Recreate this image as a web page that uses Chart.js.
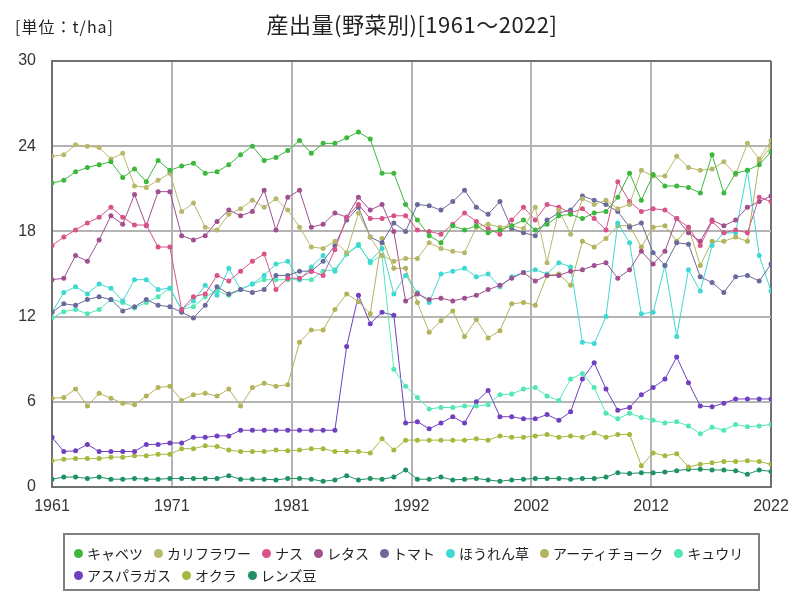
<!DOCTYPE html>
<html>
<head>
<meta charset="utf-8">
<script src="https://cdn.jsdelivr.net/npm/chart.js@4.4.1/dist/chart.umd.min.js"></script>
<style>
    html, body { margin: 0; padding: 0; background: #fff; }
    #wrap { position: relative; width: 800px; height: 600px; }
    #legend {
        position: absolute; left: 63px; top: 533px; width: 697px; height: 58px;
        box-sizing: border-box; border: 2px solid #808080;
        padding: 7px 0 0 9px;
        display: flex; flex-wrap: wrap; align-content: flex-start;
        font: 14px "Noto Sans CJK JP", sans-serif; color: #222;
    }
    .item { display: flex; align-items: center; height: 22px; margin-right: 11px; }
    .dot { width: 9px; height: 9px; border-radius: 50%; margin-right: 4px; }
</style>
</head>
<body>
<div id="wrap">
    <canvas id="chart" width="800" height="600"></canvas>
    <div id="legend"></div>
</div>
<script>
const titleText = '産出量(野菜別)[1961～2022]';
const unitText = '[単位：t/ha]';

const firstYear = 1961;
const lastYear = 2022;
const years = [];
for (let y = firstYear; y <= lastYear; y++) years.push(y);

// t/ha, 1961..2022
const cabbage = [
    21.4, 21.6, 22.2, 22.5, 22.7, 22.9, 21.8, 22.4, 21.5, 23.0,
    22.3, 22.6, 22.8, 22.1, 22.2, 22.7, 23.4, 24.0, 23.0, 23.2,
    23.7, 24.4, 23.5, 24.2, 24.2, 24.6, 25.0, 24.5, 22.1, 22.1,
    19.9, 18.8, 17.7, 17.2, 18.4, 18.1, 18.4, 17.9, 18.1, 18.4,
    18.8, 18.1, 18.5, 19.1, 19.2, 18.9, 19.3, 19.4, 20.4, 22.1,
    20.2, 22.0, 21.2, 21.2, 21.1, 20.7, 23.4, 20.7, 22.1, 22.3,
    22.7, 23.6
];
const cauliflower = [
    23.3, 23.4, 24.1, 24.0, 23.9, 23.1, 23.5, 21.2, 21.1, 21.6,
    22.1, 19.4, 20.0, 18.3, 18.1, 19.2, 19.6, 20.2, 19.7, 20.3,
    19.5, 18.3, 16.9, 16.8, 17.3, 16.5, 19.3, 17.6, 16.3, 15.9,
    16.1, 16.1, 17.2, 16.8, 16.6, 16.5, 18.3, 18.5, 18.3, 18.4,
    18.2, 19.7, 15.8, 19.5, 17.8, 20.3, 19.9, 20.2, 19.6, 19.9,
    22.3, 21.9, 21.9, 23.3, 22.5, 22.3, 22.4, 22.9, 22.0, 24.2,
    23.1, 24.4
];
const eggplant = [
    17.0, 17.6, 18.1, 18.6, 19.0, 19.7, 19.0, 18.45, 18.45, 16.9,
    16.9, 12.5, 13.4, 13.6, 14.9, 14.5, 15.2, 15.9, 16.4, 13.9,
    14.7, 14.7, 15.2, 14.9, 16.7, 19.0, 19.9, 18.9, 18.9, 19.1,
    19.1, 18.1, 18.0, 17.8, 18.5, 19.3, 18.7, 18.2, 17.8, 18.8,
    19.7, 18.8, 19.9, 19.7, 19.3, 19.6, 18.9, 18.1, 21.5, 20.1,
    19.4, 19.6, 19.5, 18.9, 18.3, 17.0, 18.7, 17.9, 18.1, 17.9,
    20.4, 20.1
];
const lettuce = [
    14.6, 14.7, 16.3, 15.9, 17.4, 19.1, 18.5, 20.6, 18.4, 20.8,
    20.8, 17.7, 17.4, 17.7, 18.7, 19.5, 19.1, 19.4, 20.9, 18.1,
    20.4, 20.9, 18.3, 18.5, 19.3, 19.0, 20.4, 19.5, 19.9, 18.0,
    13.1, 13.6, 13.2, 13.3, 13.1, 13.3, 13.5, 13.9, 14.2, 14.7,
    15.1, 14.5, 14.9, 14.9, 15.2, 15.3, 15.6, 15.8, 14.7, 15.3,
    16.6, 15.7, 16.6, 18.9, 17.9, 17.3, 18.8, 18.4, 18.8, 19.7,
    20.1, 20.5
];
const tomato = [
    12.3, 12.9, 12.8, 13.2, 13.4, 13.2, 12.4, 12.7, 13.2, 12.8,
    12.7, 12.3, 11.9, 12.8, 14.1, 13.6, 13.9, 13.7, 13.9, 14.9,
    14.9, 15.2, 15.2, 15.9, 17.0, 18.8, 19.7, 17.6, 17.2, 18.6,
    18.0, 19.9, 19.8, 19.5, 20.1, 20.9, 19.7, 19.2, 20.1, 18.2,
    17.9, 17.7, 18.8, 19.3, 19.5, 20.5, 20.2, 19.9, 19.4, 18.3,
    18.6, 16.5, 15.6, 17.2, 17.1, 14.8, 14.4, 13.7, 14.8, 14.9,
    14.5, 15.7
];
const spinach = [
    12.3, 13.7, 14.1, 13.6, 14.3, 14.0, 13.1, 14.6, 14.6, 13.9,
    14.0, 12.5, 13.1, 14.2, 13.5, 15.4, 13.9, 14.3, 14.9, 15.7,
    15.9, 14.6, 15.5, 16.3, 15.2, 16.4, 17.0, 15.9, 16.8, 13.6,
    14.9, 13.7, 13.0, 15.0, 15.2, 15.4, 14.8, 15.0, 14.1, 14.8,
    15.1, 15.3, 15.0, 15.8, 15.5, 10.2, 10.1, 12.0, 18.6, 17.2,
    12.2, 12.3, 15.6, 10.6, 15.3, 13.8, 17.0, 17.9, 17.9, 22.3,
    16.3, 13.8
];
const artichoke = [
    6.25, 6.3, 6.9, 5.7, 6.6, 6.25, 5.9, 5.8, 6.4, 7.0,
    7.1, 6.1, 6.5, 6.6, 6.4, 6.9, 5.7, 7.0, 7.3, 7.1,
    7.2, 10.2, 11.05, 11.05, 12.5, 13.6, 13.05, 12.2, 17.5, 15.4,
    15.4, 13.0, 10.9, 11.7, 12.4, 10.6, 11.8, 10.5, 11.0, 12.9,
    13.0, 12.8, 14.9, 15.0, 14.2, 17.3, 16.9, 17.5, 18.4, 18.4,
    16.9, 18.3, 18.4, 17.3, 18.3, 15.6, 17.3, 17.3, 17.6, 17.3,
    22.9, 24.0
];
const cucumber = [
    11.9, 12.35, 12.5, 12.2, 12.5, 13.2, 13.0, 12.6, 13.0, 13.4,
    14.0, 12.5, 12.7, 13.4, 13.8, 13.5, 13.9, 14.3, 14.6, 14.6,
    14.6, 14.6, 14.6, 15.2, 15.3, 16.4, 17.1, 15.8, 16.3, 8.3,
    7.1, 6.3, 5.5, 5.6, 5.6, 5.7, 5.7, 5.8, 6.5, 6.55,
    6.9, 7.0, 6.4, 6.1, 7.6, 8.0, 7.0, 5.2, 4.8, 5.2,
    4.9, 4.7, 4.5, 4.6, 4.3, 3.75, 4.2, 4.0, 4.4, 4.25,
    4.3, 4.4
];
const asparagus = [
    3.5, 2.5, 2.55, 3.0, 2.5, 2.5, 2.5, 2.5, 3.0, 3.0,
    3.1, 3.1, 3.5, 3.5, 3.6, 3.6, 4.0, 4.0, 4.0, 4.0,
    4.0, 4.0, 4.0, 4.0, 4.0, 9.9, 13.5, 11.5, 12.3, 12.1,
    4.5, 4.6, 4.1, 4.5, 4.95, 4.5, 6.0, 6.8, 4.95, 4.95,
    4.8, 4.8, 5.1, 4.7, 5.3, 7.6, 8.75, 6.9, 5.4, 5.6,
    6.5, 7.0, 7.6, 9.15, 7.35, 5.7, 5.65, 5.9, 6.2, 6.2,
    6.2, 6.2
];
const okra = [
    1.85, 1.95, 2.0, 2.0, 2.0, 2.1, 2.1, 2.2, 2.2, 2.3,
    2.3, 2.7, 2.7, 2.9, 2.85, 2.6, 2.5, 2.5, 2.5, 2.6,
    2.55, 2.6, 2.7, 2.7, 2.5, 2.5, 2.5, 2.4, 3.4, 2.6,
    3.3, 3.3, 3.3, 3.3, 3.3, 3.3, 3.4, 3.3, 3.6, 3.5,
    3.5, 3.6, 3.7, 3.5, 3.6, 3.5, 3.8, 3.5, 3.7, 3.7,
    1.5, 2.4, 2.2, 2.35, 1.4, 1.6, 1.7, 1.8, 1.8, 1.85,
    1.8, 1.6
];
const lentils = [
    0.55, 0.7, 0.7, 0.6, 0.7, 0.55, 0.55, 0.6, 0.55, 0.55,
    0.6, 0.6, 0.6, 0.6, 0.6, 0.8, 0.55, 0.55, 0.55, 0.5,
    0.6, 0.6, 0.55, 0.4, 0.5, 0.8, 0.5, 0.6, 0.55, 0.7,
    1.2, 0.55, 0.55, 0.7, 0.5, 0.55, 0.6, 0.5, 0.4, 0.5,
    0.55, 0.6, 0.6, 0.6, 0.55, 0.6, 0.6, 0.7, 1.0, 0.95,
    1.0, 1.0, 1.05, 1.15, 1.25, 1.25, 1.2, 1.2, 1.15, 0.9,
    1.2, 1.1
];

const seriesNames = ['キャベツ', 'カリフラワー', 'ナス', 'レタス', 'トマト', 'ほうれん草',
    'アーティチョーク', 'キュウリ', 'アスパラガス', 'オクラ', 'レンズ豆'];
const seriesValues = [cabbage, cauliflower, eggplant, lettuce, tomato, spinach,
    artichoke, cucumber, asparagus, okra, lentils];
const seriesColors = ['#3cb83c', '#b8b86c', '#d9538b', '#a0508f', '#6a6a9c', '#40d8d2',
    '#b3b35a', '#52e8b6', '#7040c0', '#a6b840', '#1f9163'];

const xTicks = [0, 1, 2, 3, 4, 5, 6].map(k => firstYear + k * (lastYear - firstYear) / 6);
const yTicks = [0, 6, 12, 18, 24, 30];

const datasets = seriesNames.map((name, i) => ({
    label: name,
    data: seriesValues[i].map((v, j) => ({ x: years[j], y: v })),
    borderColor: seriesColors[i],
    backgroundColor: seriesColors[i],
    borderWidth: 1,
    pointRadius: 2.5,
    pointBorderWidth: 0,
    tension: 0
}));

const headerPlugin = {
    id: 'header',
    afterDraw(chart) {
        const c = chart.ctx;
        c.save();
        c.fillStyle = '#222';
        c.textBaseline = 'middle';
        c.font = '22px "Noto Sans CJK JP"';
        c.textAlign = 'center';
        c.letterSpacing = '0.5px';
        c.fillText(titleText, 412, 25);
        c.font = '16px "Noto Sans CJK JP"';
        c.letterSpacing = '1px';
        c.textAlign = 'left';
        c.fillText(unitText, 15, 27);
        c.restore();
    }
};

const darkLine = '#707070';
const gridLine = '#b4b4b4';
const tickFont = { family: '"Liberation Sans", Arial, sans-serif', size: 16 };

new Chart(document.getElementById('chart'), {
    type: 'line',
    data: { datasets },
    options: {
        responsive: false,
        animation: false,
        layout: { padding: { top: 61, right: 29, bottom: 83, left: 0 } },
        plugins: {
            legend: { display: false },
            tooltip: { enabled: false }
        },
        scales: {
            x: {
                type: 'linear',
                min: firstYear,
                max: lastYear,
                afterBuildTicks: (s) => { s.ticks = xTicks.map(v => ({ value: v })); },
                afterFit: (s) => { s.height = 30; },
                ticks: {
                    autoSkip: false,
                    maxRotation: 0,
                    padding: 10,
                    color: '#333',
                    font: tickFont,
                    callback: (v) => String(Math.round(v))
                },
                grid: {
                    drawTicks: false,
                    lineWidth: 2,
                    color: (c) => (c.tick && c.tick.value === lastYear) ? darkLine : gridLine
                },
                border: { color: darkLine, width: 2 }
            },
            y: {
                min: 0,
                max: 30,
                afterBuildTicks: (s) => { s.ticks = yTicks.map(v => ({ value: v })); },
                afterFit: (s) => { s.width = 52; },
                ticks: { padding: 16, color: '#333', font: tickFont },
                grid: {
                    drawTicks: false,
                    lineWidth: 2,
                    color: (c) => (c.tick && c.tick.value === 30) ? darkLine : gridLine
                },
                border: { color: darkLine, width: 2 }
            }
        }
    },
    plugins: [headerPlugin]
});

// legend built from the same series lists
const legend = document.getElementById('legend');
seriesNames.forEach((name, i) => {
    const item = document.createElement('div');
    item.className = 'item';
    const dot = document.createElement('span');
    dot.className = 'dot';
    dot.style.background = seriesColors[i];
    const label = document.createElement('span');
    label.textContent = name;
    item.appendChild(dot);
    item.appendChild(label);
    legend.appendChild(item);
});
</script>
</body>
</html>
